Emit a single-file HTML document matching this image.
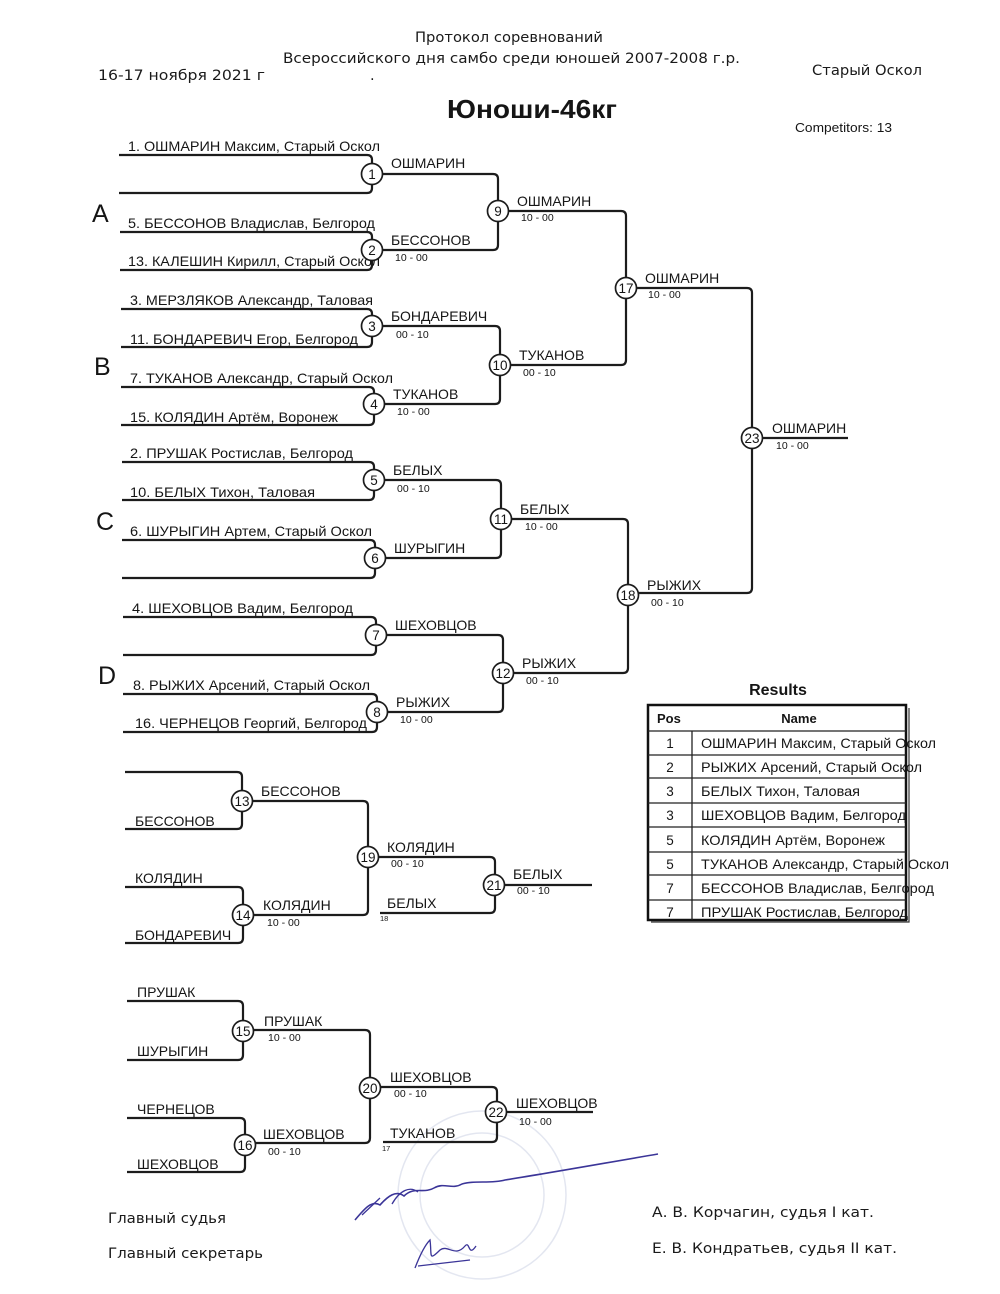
<!DOCTYPE html>
<html><head><meta charset="utf-8"><style>
html,body{margin:0;padding:0;background:#fff;}
svg{display:block;}
.h{font-family:"DejaVu Sans","Liberation Sans",sans-serif;fill:#1a1a1a;}
.a{font-family:"Liberation Sans",Arial,sans-serif;fill:#151515;}
.n{font-size:14px;}
.w{font-size:14px;}
.s{font-size:10.5px;}
.c{font-size:13.5px;text-anchor:middle;}
.ln{fill:none;stroke:#1c1c1c;stroke-width:2.2;}
.ci{fill:#fff;stroke:#1c1c1c;stroke-width:1.7;}
</style></head><body>
<svg width="1000" height="1294" viewBox="0 0 1000 1294" xmlns="http://www.w3.org/2000/svg">
<!-- stamp & signatures -->
<g fill="none" stroke="#c3cae0" stroke-width="1.5" opacity="0.45">
<circle cx="482" cy="1195" r="84"/>
<circle cx="482" cy="1195" r="62"/>
</g>
<path d="M355,1220 C365,1208 372,1200 380,1205 C388,1196 396,1190 404,1196 C414,1186 424,1194 434,1188 C444,1182 452,1190 462,1184 C475,1180 490,1184 505,1180 C555,1172 605,1163 658,1154" fill="none" stroke="#3b3598" stroke-width="1.6"/>
<path d="M362,1215 L380,1198 M392,1204 C400,1190 410,1186 418,1192" fill="none" stroke="#3b3598" stroke-width="1.3"/>
<path d="M415,1268 C420,1255 425,1245 430,1240 C432,1255 428,1262 440,1250 C448,1244 455,1258 465,1246 C470,1240 468,1258 476,1246 M418,1266 L470,1260" fill="none" stroke="#3b3598" stroke-width="1.3"/>

<!-- header -->
<text class="h" x="509" y="42" font-size="14.5" text-anchor="middle" textLength="188" lengthAdjust="spacingAndGlyphs">Протокол соревнований</text>
<text class="h" x="283" y="63" font-size="14.5" textLength="457" lengthAdjust="spacingAndGlyphs">Всероссийского дня самбо среди юношей 2007-2008 г.р.</text>
<text class="h" x="98" y="80" font-size="14.5" textLength="167" lengthAdjust="spacingAndGlyphs">16-17 ноября 2021 г</text>
<text class="h" x="370" y="80" font-size="14.5">.</text>
<text class="h" x="812" y="75" font-size="14.5" textLength="110" lengthAdjust="spacingAndGlyphs">Старый Оскол</text>
<text class="a" x="447" y="118" font-size="26" font-weight="bold" textLength="170" lengthAdjust="spacingAndGlyphs">Юноши-46кг</text>
<text class="a" x="795" y="132" font-size="12.5" textLength="97" lengthAdjust="spacingAndGlyphs">Competitors: 13</text>

<!-- group letters -->
<g class="a" font-size="25">
<text x="92" y="222">A</text>
<text x="94" y="375">B</text>
<text x="96" y="530">C</text>
<text x="98" y="684">D</text>
</g>

<!-- bracket lines -->
<g class="ln">
<path d="M119,155 H367 Q372,155 372,160 V188 Q372,193 367,193 H119"/>
<path d="M120,232 H367 Q372,232 372,237 V265 Q372,270 367,270 H120"/>
<path d="M121,309 H367 Q372,309 372,314 V342 Q372,347 367,347 H121"/>
<path d="M121,387 H369 Q374,387 374,392 V420 Q374,425 369,425 H121"/>
<path d="M122,462 H369 Q374,462 374,467 V495 Q374,500 369,500 H122"/>
<path d="M122,540 H370 Q375,540 375,545 V573 Q375,578 370,578 H122"/>
<path d="M123,617 H371 Q376,617 376,622 V650 Q376,655 371,655 H123"/>
<path d="M123,694 H372 Q377,694 377,699 V727 Q377,732 372,732 H123"/>

<path d="M372,174 H493 Q498,174 498,179 V245 Q498,250 493,250 H372"/>
<path d="M372,326 H495 Q500,326 500,331 V399 Q500,404 495,404 H374"/>
<path d="M374,480 H496 Q501,480 501,485 V553 Q501,558 496,558 H375"/>
<path d="M376,635 H498 Q503,635 503,640 V707 Q503,712 498,712 H377"/>

<path d="M498,211 H621 Q626,211 626,216 V360 Q626,365 621,365 H500"/>
<path d="M501,519 H623 Q628,519 628,524 V668 Q628,673 623,673 H503"/>

<path d="M626,288 H747 Q752,288 752,293 V588 Q752,593 747,593 H628"/>
<path d="M752,438 H848"/>

<path d="M125,772 H237 Q242,772 242,777 V824 Q242,829 237,829 H125"/>
<path d="M125,887 H238 Q243,887 243,892 V938 Q243,943 238,943 H125"/>
<path d="M242,801 H363 Q368,801 368,806 V910 Q368,915 363,915 H243"/>
<path d="M368,857 H490 Q495,857 495,862 V908 Q495,913 490,913 H380"/>
<path d="M494,885 H592"/>

<path d="M127,1001 H238 Q243,1001 243,1006 V1055 Q243,1060 238,1060 H127"/>
<path d="M127,1118 H240 Q245,1118 245,1123 V1167 Q245,1172 240,1172 H127"/>
<path d="M243,1030 H365 Q370,1030 370,1035 V1138 Q370,1143 365,1143 H245"/>
<path d="M370,1087 H492 Q497,1087 497,1092 V1137 Q497,1142 492,1142 H383"/>
<path d="M496,1112 H593"/>
</g>

<!-- entrant names -->
<g class="a n">
<text x="128" y="151" textLength="252" lengthAdjust="spacingAndGlyphs">1. ОШМАРИН Максим, Старый Оскол</text>
<text x="128" y="228" textLength="247" lengthAdjust="spacingAndGlyphs">5. БЕССОНОВ Владислав, Белгород</text>
<text x="128" y="266" textLength="252" lengthAdjust="spacingAndGlyphs">13. КАЛЕШИН Кирилл, Старый Оскол</text>
<text x="130" y="305" textLength="243" lengthAdjust="spacingAndGlyphs">3. МЕРЗЛЯКОВ Александр, Таловая</text>
<text x="130" y="344" textLength="228" lengthAdjust="spacingAndGlyphs">11. БОНДАРЕВИЧ Егор, Белгород</text>
<text x="130" y="383" textLength="263" lengthAdjust="spacingAndGlyphs">7. ТУКАНОВ Александр, Старый Оскол</text>
<text x="130" y="422" textLength="208" lengthAdjust="spacingAndGlyphs">15. КОЛЯДИН Артём, Воронеж</text>
<text x="130" y="458" textLength="223" lengthAdjust="spacingAndGlyphs">2. ПРУШАК Ростислав, Белгород</text>
<text x="130" y="497" textLength="185" lengthAdjust="spacingAndGlyphs">10. БЕЛЫХ Тихон, Таловая</text>
<text x="130" y="536" textLength="242" lengthAdjust="spacingAndGlyphs">6. ШУРЫГИН Артем, Старый Оскол</text>
<text x="132" y="613" textLength="221" lengthAdjust="spacingAndGlyphs">4. ШЕХОВЦОВ Вадим, Белгород</text>
<text x="133" y="690" textLength="237" lengthAdjust="spacingAndGlyphs">8. РЫЖИХ Арсений, Старый Оскол</text>
<text x="135" y="728" textLength="232" lengthAdjust="spacingAndGlyphs">16. ЧЕРНЕЦОВ Георгий, Белгород</text>

<text x="135" y="826">БЕССОНОВ</text>
<text x="135" y="883">КОЛЯДИН</text>
<text x="135" y="940">БОНДАРЕВИЧ</text>
<text x="137" y="997">ПРУШАК</text>
<text x="137" y="1056">ШУРЫГИН</text>
<text x="137" y="1114">ЧЕРНЕЦОВ</text>
<text x="137" y="1169">ШЕХОВЦОВ</text>
</g>

<!-- winner labels -->
<g class="a w">
<text x="391" y="168">ОШМАРИН</text>
<text x="391" y="245">БЕССОНОВ</text>
<text x="391" y="321">БОНДАРЕВИЧ</text>
<text x="393" y="399">ТУКАНОВ</text>
<text x="393" y="475">БЕЛЫХ</text>
<text x="394" y="553">ШУРЫГИН</text>
<text x="395" y="630">ШЕХОВЦОВ</text>
<text x="396" y="707">РЫЖИХ</text>
<text x="517" y="206">ОШМАРИН</text>
<text x="519" y="360">ТУКАНОВ</text>
<text x="520" y="514">БЕЛЫХ</text>
<text x="522" y="668">РЫЖИХ</text>
<text x="645" y="283">ОШМАРИН</text>
<text x="647" y="590">РЫЖИХ</text>
<text x="772" y="433">ОШМАРИН</text>

<text x="261" y="796">БЕССОНОВ</text>
<text x="263" y="910">КОЛЯДИН</text>
<text x="387" y="852">КОЛЯДИН</text>
<text x="387" y="908">БЕЛЫХ</text>
<text x="513" y="879">БЕЛЫХ</text>
<text x="264" y="1026">ПРУШАК</text>
<text x="263" y="1139">ШЕХОВЦОВ</text>
<text x="390" y="1082">ШЕХОВЦОВ</text>
<text x="390" y="1138">ТУКАНОВ</text>
<text x="516" y="1108">ШЕХОВЦОВ</text>
</g>

<!-- scores -->
<g class="a s">
<text x="395" y="261">10 - 00</text>
<text x="396" y="338">00 - 10</text>
<text x="397" y="415">10 - 00</text>
<text x="397" y="492">00 - 10</text>
<text x="400" y="723">10 - 00</text>
<text x="521" y="221">10 - 00</text>
<text x="523" y="376">00 - 10</text>
<text x="525" y="530">10 - 00</text>
<text x="526" y="684">00 - 10</text>
<text x="648" y="298">10 - 00</text>
<text x="651" y="606">00 - 10</text>
<text x="776" y="449">10 - 00</text>
<text x="267" y="926">10 - 00</text>
<text x="391" y="867">00 - 10</text>
<text x="517" y="894">00 - 10</text>
<text x="268" y="1041">10 - 00</text>
<text x="268" y="1155">00 - 10</text>
<text x="394" y="1097">00 - 10</text>
<text x="519" y="1125">10 - 00</text>
<text x="380" y="921" font-size="7.5">18</text>
<text x="382" y="1151" font-size="7.5">17</text>
</g>

<!-- circles -->
<g>
<circle class="ci" cx="372" cy="174" r="10.5"/>
<circle class="ci" cx="372" cy="250" r="10.5"/>
<circle class="ci" cx="372" cy="326" r="10.5"/>
<circle class="ci" cx="374" cy="404" r="10.5"/>
<circle class="ci" cx="374" cy="480" r="10.5"/>
<circle class="ci" cx="375" cy="558" r="10.5"/>
<circle class="ci" cx="376" cy="635" r="10.5"/>
<circle class="ci" cx="377" cy="712" r="10.5"/>
<circle class="ci" cx="498" cy="211" r="10.5"/>
<circle class="ci" cx="500" cy="365" r="10.5"/>
<circle class="ci" cx="501" cy="519" r="10.5"/>
<circle class="ci" cx="503" cy="673" r="10.5"/>
<circle class="ci" cx="626" cy="288" r="10.5"/>
<circle class="ci" cx="628" cy="595" r="10.5"/>
<circle class="ci" cx="752" cy="438" r="10.5"/>
<circle class="ci" cx="242" cy="801" r="10.5"/>
<circle class="ci" cx="243" cy="915" r="10.5"/>
<circle class="ci" cx="368" cy="857" r="10.5"/>
<circle class="ci" cx="494" cy="885" r="10.5"/>
<circle class="ci" cx="243" cy="1031" r="10.5"/>
<circle class="ci" cx="245" cy="1145" r="10.5"/>
<circle class="ci" cx="370" cy="1088" r="10.5"/>
<circle class="ci" cx="496" cy="1112" r="10.5"/>
</g>
<g class="a c">
<text x="372" y="179">1</text>
<text x="372" y="255">2</text>
<text x="372" y="331">3</text>
<text x="374" y="409">4</text>
<text x="374" y="485">5</text>
<text x="375" y="563">6</text>
<text x="376" y="640">7</text>
<text x="377" y="717">8</text>
<text x="498" y="216">9</text>
<text x="500" y="370">10</text>
<text x="501" y="524">11</text>
<text x="503" y="678">12</text>
<text x="626" y="293">17</text>
<text x="628" y="600">18</text>
<text x="752" y="443">23</text>
<text x="242" y="806">13</text>
<text x="243" y="920">14</text>
<text x="368" y="862">19</text>
<text x="494" y="890">21</text>
<text x="243" y="1036">15</text>
<text x="245" y="1150">16</text>
<text x="370" y="1093">20</text>
<text x="496" y="1117">22</text>
</g>

<!-- results table -->
<text class="a" x="778" y="695" font-size="16" font-weight="bold" text-anchor="middle">Results</text>
<rect x="648" y="705" width="258" height="215" fill="none" stroke="#111" stroke-width="2.5"/>
<path d="M651,922 H909 V708" fill="none" stroke="#333" stroke-width="1.2"/>
<g stroke="#222" stroke-width="1.3">
<line x1="648" y1="731" x2="906" y2="731"/>
<line x1="648" y1="755" x2="906" y2="755"/>
<line x1="648" y1="778" x2="906" y2="778"/>
<line x1="648" y1="803" x2="906" y2="803"/>
<line x1="648" y1="827" x2="906" y2="827"/>
<line x1="648" y1="852" x2="906" y2="852"/>
<line x1="648" y1="875" x2="906" y2="875"/>
<line x1="648" y1="900" x2="906" y2="900"/>
<line x1="692" y1="731" x2="692" y2="920"/>
</g>
<g class="a" font-size="13" font-weight="bold">
<text x="657" y="723">Pos</text>
<text x="799" y="723" text-anchor="middle">Name</text>
</g>
<g class="a" font-size="13.5" text-anchor="middle">
<text x="670" y="748">1</text>
<text x="670" y="772">2</text>
<text x="670" y="796">3</text>
<text x="670" y="820">3</text>
<text x="670" y="845">5</text>
<text x="670" y="869">5</text>
<text x="670" y="893">7</text>
<text x="670" y="917">7</text>
</g>
<g class="a" font-size="14">
<text x="701" y="748" textLength="235" lengthAdjust="spacingAndGlyphs">ОШМАРИН Максим, Старый Оскол</text>
<text x="701" y="772" textLength="221" lengthAdjust="spacingAndGlyphs">РЫЖИХ Арсений, Старый Оскол</text>
<text x="701" y="796" textLength="159" lengthAdjust="spacingAndGlyphs">БЕЛЫХ Тихон, Таловая</text>
<text x="701" y="820" textLength="205" lengthAdjust="spacingAndGlyphs">ШЕХОВЦОВ Вадим, Белгород</text>
<text x="701" y="845" textLength="184" lengthAdjust="spacingAndGlyphs">КОЛЯДИН Артём, Воронеж</text>
<text x="701" y="869" textLength="248" lengthAdjust="spacingAndGlyphs">ТУКАНОВ Александр, Старый Оскол</text>
<text x="701" y="893" textLength="233" lengthAdjust="spacingAndGlyphs">БЕССОНОВ Владислав, Белгород</text>
<text x="701" y="917" textLength="207" lengthAdjust="spacingAndGlyphs">ПРУШАК Ростислав, Белгород</text>
</g>

<!-- footer -->
<g class="h" font-size="14.5">
<text x="108" y="1223" textLength="118" lengthAdjust="spacingAndGlyphs">Главный судья</text>
<text x="108" y="1258" textLength="155" lengthAdjust="spacingAndGlyphs">Главный секретарь</text>
<text x="652" y="1217" textLength="222" lengthAdjust="spacingAndGlyphs">А. В. Корчагин, судья I кат.</text>
<text x="652" y="1253" textLength="245" lengthAdjust="spacingAndGlyphs">Е. В. Кондратьев, судья II кат.</text>
</g>
</svg>
</body></html>
